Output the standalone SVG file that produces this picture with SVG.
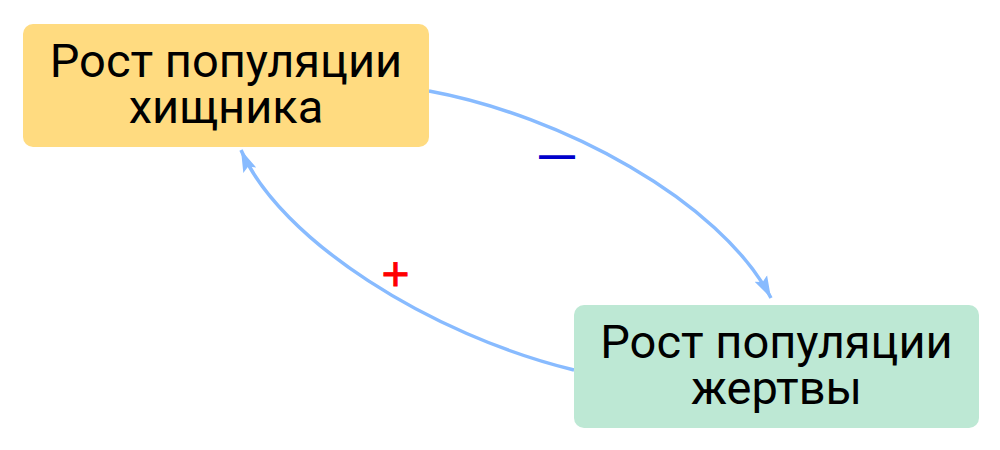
<svg xmlns="http://www.w3.org/2000/svg" width="1000" height="450" viewBox="0 0 1000 450">
<style>
.lbl{font-family:Roboto,"Noto Sans","Liberation Sans",sans-serif;font-size:47px;fill:#000;text-anchor:middle}
.edge{fill:none;stroke:#88bbff;stroke-width:3.5}
.sign{font-family:"Liberation Sans",Arial,sans-serif;text-anchor:middle}
</style>
<defs>
<marker id="arr" markerUnits="userSpaceOnUse" markerWidth="24" markerHeight="16" refX="22" refY="8" orient="auto">
<path d="M0,1 L22,8 L0,15 L4,8 Z" fill="#88bbff"/>
</marker>
</defs>
<rect width="1000" height="450" fill="#fff"/>
<g id="connectors">
<path class="edge" d="M429,91 C560,115 720,200 771,298" marker-end="url(#arr)"/>
<path class="edge" d="M574,370 C430,335 280,240 241,150" marker-end="url(#arr)"/>
<text class="sign" x="557" y="167" font-size="36" font-weight="bold" fill="#0000cc">—</text>
<text class="sign" x="395.5" y="290" font-size="48" fill="#ff0000" stroke="#ff0000" stroke-width="0.8">+</text>
</g>
<g id="predator">
<rect x="23" y="24" width="406" height="123" rx="10" fill="#ffdb80"/>
<text class="lbl" x="226" y="77">Рост популяции</text>
<text class="lbl" x="226" y="123">хищника</text>
</g>
<g id="prey">
<rect x="574" y="305" width="405" height="123" rx="10" fill="#bde8d4"/>
<text class="lbl" x="776.5" y="358">Рост популяции</text>
<text class="lbl" x="776.5" y="404">жертвы</text>
</g>
</svg>
